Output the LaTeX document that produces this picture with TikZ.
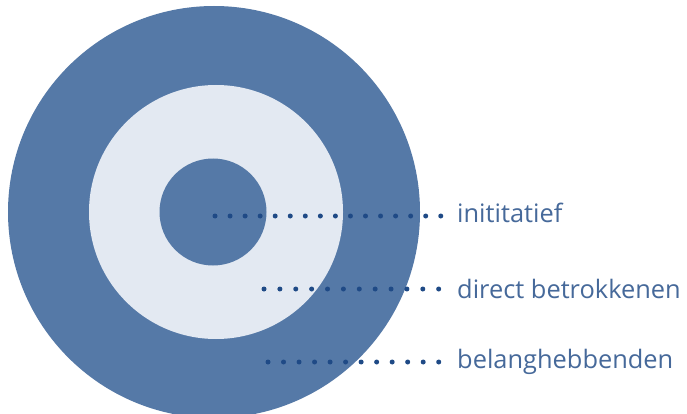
\documentclass[tikz,border=0pt]{standalone}
\usepackage{fontspec}
\setmainfont{Open Sans}
\definecolor{ringdark}{HTML}{5579A7}
\definecolor{ringlight}{HTML}{E3E9F2}
\definecolor{dotblue}{HTML}{1F4A86}
\definecolor{labblue}{HTML}{46699A}
\tikzset{
  disc/.style={circle, inner sep=0pt, draw=none},
  lab/.style={anchor=base west, inner sep=0pt, text=labblue, font=\fontsize{25.4}{30}\selectfont},
  dotline/.style={draw=dotblue, line width=5pt, line cap=round, dash pattern=on 0pt off #1pt},
}
\begin{document}
\begin{tikzpicture}[x=1pt,y=-1pt]
\useasboundingbox (0,0) rectangle (687,414);
\fill[white] (0,0) rectangle (687,414);
\node[disc, fill=ringdark, minimum size=412pt] (outer) at (214,212) {};
\node[disc, fill=ringlight, minimum size=254pt] (middle) at (216,212) {};
\node[disc, fill=ringdark, minimum size=107pt] (inner) at (213,212) {};
\node[lab] (l1) at (457,222) {inititatief};
\node[lab] (l2) at (457,298) {direct betrokkenen};
\node[lab] (l3) at (457,368) {belanghebbenden};
\coordinate (s1) at (215,216);
\coordinate (e1) at (442,216);
\coordinate (s2) at (264,289);
\coordinate (e2) at (440,289);
\coordinate (s3) at (268,362);
\coordinate (e3) at (440,362);
\draw[dotline=15.05] (s1) -- (e1);
\draw[dotline=15.88] (s2) -- (e2);
\draw[dotline=15.52] (s3) -- (e3);
\end{tikzpicture}
\end{document}
